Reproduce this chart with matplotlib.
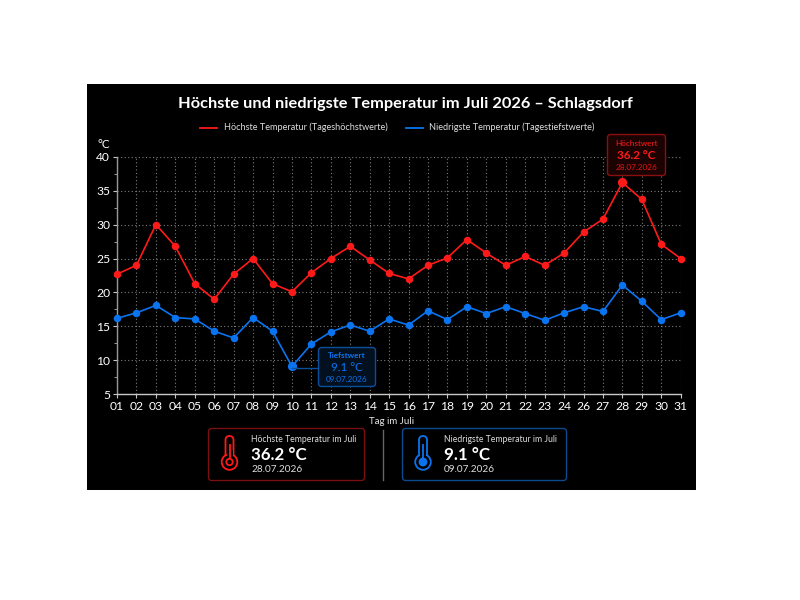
import matplotlib
matplotlib.use("Agg")
import matplotlib.pyplot as plt
from matplotlib.patches import Rectangle, FancyBboxPatch, Circle

plt.rcParams['font.family'] = ['Lato', 'DejaVu Sans']

# Tag 25 fehlt in der Vorlage
tage = ["01", "02", "03", "04", "05", "06", "07", "08", "09", "10",
        "11", "12", "13", "14", "15", "16", "17", "18", "19", "20",
        "21", "22", "23", "24", "26", "27", "28", "29", "30", "31"]
hoechst = [22.7, 24.0, 30.0, 26.8, 21.3, 19.0, 22.7, 25.0, 21.3, 20.1,
           22.9, 25.0, 26.8, 24.8, 22.8, 22.0, 24.0, 25.1, 27.8, 25.8,
           24.0, 25.3, 24.0, 25.8, 28.9, 30.8, 36.2, 33.7, 27.1, 25.0]
tiefst = [16.2, 17.0, 18.1, 16.3, 16.1, 14.3, 13.3, 16.3, 14.3, 9.1,
          12.4, 14.2, 15.2, 14.3, 16.1, 15.2, 17.3, 16.0, 17.9, 16.9,
          17.9, 16.9, 15.9, 17.0, 17.9, 17.2, 21.1, 18.7, 16.0, 17.0]
y_ticks = [5, 10, 15, 20, 25, 30, 35, 40]

ROT = "#ff1a1a"
BLAU = "#0a74f0"
W, H = 800, 600

fig = plt.figure(figsize=(8, 6), dpi=100, facecolor="white")

# Overlay in Pixelkoordinaten fuer Hintergrund und Karten
bg = fig.add_axes([0, 0, 1, 1], zorder=0)
bg.set_xlim(0, W)
bg.set_ylim(H, 0)
bg.axis("off")
bg.add_patch(Rectangle((87, 84), 609, 406, fc="black", ec="none"))

ax = fig.add_axes([117 / W, 1 - 394.3 / H, (680.7 - 117) / W, (394.3 - 156.7) / H], zorder=1)
ax.patch.set_alpha(0)
ax.set_xlim(0, len(tage) - 1)
ax.set_ylim(5, 40)
ax.set_xticks(range(len(tage)))
ax.set_xticklabels(tage)
ax.set_yticks(y_ticks)
ax.set_yticks([7.5, 12.5, 17.5, 22.5, 27.5, 32.5, 37.5], minor=True)
ax.grid(True, color="#7d7d7d", lw=0.8, ls=(0, (1, 2.2)))
ax.set_axisbelow(True)
for s in ["top", "right"]:
    ax.spines[s].set_visible(False)
ax.spines["left"].set_color("#9a9a9a")
ax.spines["bottom"].set_color("#c8c8c8")
ax.spines["left"].set_linewidth(1.0)
ax.spines["bottom"].set_linewidth(1.0)
ax.tick_params(axis="both", colors="white", labelsize=8.7, length=3, width=0.8, pad=2)
ax.tick_params(axis="both", which="major", color="#c8c8c8")
ax.tick_params(axis="y", which="minor", color="#9a9a9a", length=2.5, width=0.7)

l1, = ax.plot(tage, hoechst, color=ROT, lw=1.2, marker="o", ms=4.4, clip_on=False, zorder=3,
              label="Höchste Temperatur (Tageshöchstwerte)")
l2, = ax.plot(tage, tiefst, color=BLAU, lw=1.2, marker="o", ms=4.4, clip_on=False, zorder=3,
              label="Niedrigste Temperatur (Tagestiefstwerte)")

# Extremwerte etwas groesser
i_max = hoechst.index(max(hoechst))
i_min = tiefst.index(min(tiefst))
ax.plot(i_max, hoechst[i_max], "o", color=ROT, ms=5.6, zorder=4)
ax.plot(i_min, tiefst[i_min], "o", color=BLAU, ms=5.6, zorder=4)

ax.set_xlabel("Tag im Juli", color="#e8e8e8", fontsize=7)
ax.xaxis.set_label_coords(0.487, -0.095)

bg.text(405.5, 104, "Höchste und niedrigste Temperatur im Juli 2026 – Schlagsdorf",
        color="white", fontsize=11.8, fontweight="bold", ha="center", va="center")
bg.text(104, 144.5, "°C", color="white", fontsize=8.5, ha="center", va="center")

# Legende von Hand, die Abstaende passen sonst nicht
bg.plot([200, 217], [127.5, 127.5], color=ROT, lw=1.3)
bg.text(224, 127.5, l1.get_label(), color="#dddddd", fontsize=6.6, va="center")
bg.plot([406, 423], [127.5, 127.5], color=BLAU, lw=1.3)
bg.text(429, 127.5, l2.get_label(), color="#dddddd", fontsize=6.6, va="center")


def box(x0, y0, x1, y1, ec, fc="black", r=3, lw=1.0):
    p = FancyBboxPatch((x0 + r, y0 + r), x1 - x0 - 2 * r, y1 - y0 - 2 * r,
                       boxstyle=f"round,pad={r},rounding_size={r}", fc=fc, ec=ec, lw=lw, zorder=4)
    return p


top = fig.add_axes([0, 0, 1, 1], zorder=2)
top.set_xlim(0, W)
top.set_ylim(H, 0)
top.axis("off")

# Hoechstwert
top.add_patch(box(607.5, 134.5, 665.5, 175.5, "#8a1010", "#1c0303"))
top.text(636.5, 143, "Höchstwert", color=ROT, fontsize=5.9, ha="center", va="center", zorder=5)
top.text(636.5, 155.5, "36.2 °C", color=ROT, fontsize=8.4, fontweight="bold", ha="center", va="center", zorder=5)
top.text(636.5, 167.5, "28.07.2026", color="#e01515", fontsize=5.9, ha="center", va="center", zorder=5)

# Tiefstwert
top.plot([292, 318], [367.5, 367.5], color="#0a4f9e", lw=1.0, zorder=2)
top.add_patch(box(318.5, 347.5, 375.5, 386.5, "#0a4f9e", "#03101f"))
top.text(347, 356, "Tiefstwert", color=BLAU, fontsize=5.9, fontweight="bold", ha="center", va="center", zorder=5)
top.text(347, 367.5, "9.1 °C", color=BLAU, fontsize=8.4, ha="center", va="center", zorder=5)
top.text(347, 379, "09.07.2026", color=BLAU, fontsize=5.9, ha="center", va="center", zorder=5)

# Trennlinie
top.plot([383, 383], [430, 480], color="#666666", lw=1.0)


def thermometer(cx, col, voll):
    top.add_patch(FancyBboxPatch((cx - 3, 437), 6, 28, boxstyle="round,pad=1,rounding_size=4",
                                 fc="none", ec=col, lw=1.3, zorder=5))
    top.add_patch(Circle((cx, 462), 7.8, fc="black", ec=col, lw=1.3, zorder=6))
    top.add_patch(Rectangle((cx - 3, 450), 6, 7, fc="black", ec="none", zorder=7))
    top.plot([cx, cx], [445, 460], color=col, lw=1.3, zorder=8)
    if voll:
        top.add_patch(Circle((cx, 462), 4.4, fc=col, ec="none", zorder=9))
    else:
        top.add_patch(Circle((cx, 462), 3.2, fc="black", ec=col, lw=1.3, zorder=9))


# Karten unten
top.add_patch(box(208.5, 428.5, 364.5, 480.5, "#7a0f0f", "black"))
thermometer(229.5, ROT, False)
top.text(251, 439, "Höchste Temperatur im Juli", color="#dddddd", fontsize=6.2, va="center", zorder=5)
top.text(251, 454.5, "36.2 °C", color="white", fontsize=12.2, fontweight="bold", va="center", zorder=5)
top.text(251, 469.5, "28.07.2026", color="#dddddd", fontsize=7.2, va="center", zorder=5)

top.add_patch(box(402.5, 428.5, 566.5, 480.5, "#0b4a8f", "black"))
thermometer(423, BLAU, True)
top.text(444, 439, "Niedrigste Temperatur im Juli", color="#dddddd", fontsize=6.2, va="center", zorder=5)
top.text(444, 454.5, "9.1 °C", color="white", fontsize=12.2, fontweight="bold", va="center", zorder=5)
top.text(444, 469.5, "09.07.2026", color="#dddddd", fontsize=7.2, va="center", zorder=5)

fig.savefig("out.png", dpi=100, facecolor="white")
